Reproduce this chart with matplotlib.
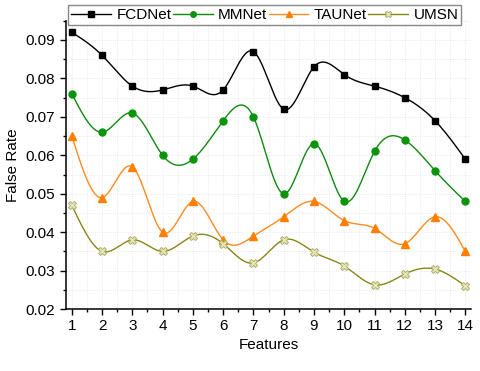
import numpy as np
import matplotlib.pyplot as plt
from matplotlib.ticker import MultipleLocator

features = list(range(1, 15))
fcdnet = [0.092, 0.086, 0.078, 0.077, 0.078, 0.077, 0.087, 0.072, 0.083, 0.081, 0.078, 0.075, 0.069, 0.059]
mmnet = [0.076, 0.066, 0.071, 0.060, 0.059, 0.069, 0.070, 0.050, 0.063, 0.048, 0.061, 0.064, 0.056, 0.048]
taunet = [0.065, 0.049, 0.057, 0.040, 0.048, 0.038, 0.039, 0.044, 0.048, 0.043, 0.041, 0.037, 0.044, 0.035]
umsn = [0.047, 0.035, 0.038, 0.035, 0.039, 0.037, 0.032, 0.038, 0.0348, 0.0312, 0.0263, 0.0291, 0.0304, 0.026]


def spline(x, y, n=400):
    # natural cubic spline, only used to draw the smooth line
    x = np.asarray(x, float)
    y = np.asarray(y, float)
    k = len(x)
    h = np.diff(x)
    A = np.zeros((k, k))
    b = np.zeros(k)
    A[0, 0] = A[-1, -1] = 1
    for i in range(1, k - 1):
        A[i, i - 1] = h[i - 1]
        A[i, i] = 2 * (h[i - 1] + h[i])
        A[i, i + 1] = h[i]
        b[i] = 6 * ((y[i + 1] - y[i]) / h[i] - (y[i] - y[i - 1]) / h[i - 1])
    M = np.linalg.solve(A, b)
    xs = np.linspace(x[0], x[-1], n)
    idx = np.clip(np.searchsorted(x, xs) - 1, 0, k - 2)
    x0, x1 = x[idx], x[idx + 1]
    hh = x1 - x0
    t0, t1 = x1 - xs, xs - x0
    ys = (M[idx] * t0**3 + M[idx + 1] * t1**3) / (6 * hh) \
        + (y[idx] / hh - M[idx] * hh / 6) * t0 \
        + (y[idx + 1] / hh - M[idx + 1] * hh / 6) * t1
    return xs, ys


plt.rcParams['font.family'] = ['Arial', 'Liberation Sans', 'DejaVu Sans']

fig = plt.figure(figsize=(4.8, 3.71), dpi=100)
ax = fig.add_axes([0.137, 0.167, 0.845, 0.777])

series = [
    ('FCDNet', fcdnet, 'black', dict(marker='s', ms=4.6, mfc='black', mec='black')),
    ('MMNet', mmnet, '#0f8a0f', dict(marker='o', ms=5, mfc='#0a940a', mec='#0a940a')),
    ('TAUNet', taunet, '#ff8a1f', dict(marker='^', ms=5.5, mfc='#ff7f00', mec='#ff7f00')),
    ('UMSN', umsn, '#878717', dict(marker='X', ms=6, mfc='#e6e6b4', mec='#b0b070', mew=0.7)),
]

for name, vals, color, mk in series:
    xs, ys = spline(features, vals)
    ax.plot(xs, ys, color=color, lw=1.0, zorder=2)
    ax.plot(features, vals, ls='none', zorder=3, **mk)
    ax.plot([], [], color=color, lw=1.0, label=name, **mk)

ax.set_xlim(0.8, 14.2)
ax.set_ylim(0.02, 0.095)
ax.set_xticks(features)
ax.xaxis.set_minor_locator(MultipleLocator(0.5))
ax.yaxis.set_minor_locator(MultipleLocator(0.005))
ax.set_yticks([0.02, 0.03, 0.04, 0.05, 0.06, 0.07, 0.08, 0.09])
ax.yaxis.set_major_formatter(plt.FuncFormatter(lambda v, p: '%.2f' % v))

ax.grid(True, which='both', color='#e4e4e4', lw=0.6, ls=':')
ax.set_axisbelow(True)
ax.spines['top'].set_visible(False)
ax.spines['right'].set_visible(False)
ax.spines['left'].set_linewidth(1.1)
ax.spines['bottom'].set_linewidth(1.1)
ax.tick_params(which='major', length=4, width=1, labelsize=11)
ax.tick_params(which='minor', length=2.5, width=1)

ax.set_xlabel('Features', fontsize=11, labelpad=3)
ax.set_ylabel('False Rate', fontsize=11, labelpad=4)

fig.legend(loc='upper left', bbox_to_anchor=(0.142, 0.987), ncol=4, fontsize=11,
           frameon=True, fancybox=False, edgecolor='#888888', framealpha=1,
           handlelength=2.6, handletextpad=0.35, columnspacing=0.1,
           borderpad=0.2, borderaxespad=0, markerscale=0.8)

fig.savefig('out.png', dpi=100)
